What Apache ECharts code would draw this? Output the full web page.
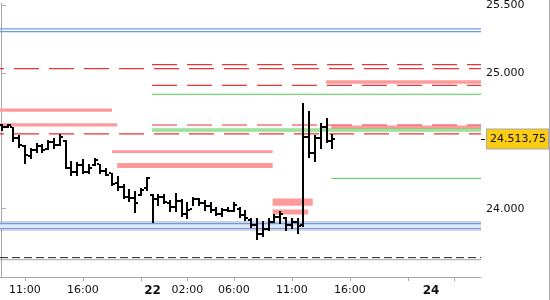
<!DOCTYPE html>
<html><head><meta charset="utf-8">
<script src="https://cdn.jsdelivr.net/npm/echarts@6/dist/echarts.min.js"></script>
<style>html,body{margin:0;padding:0;background:#fff}#c{width:550px;height:300px}</style>
</head><body><div id="c"></div>
<script>
// ---- data ----
const barSlots = [0,1,2,3,4,5,6,7,8,9,10,11,12,13,14,15,16,17,18,19,20,21,22,23,24,25,26,27,28,29,30,31,32,33,34,35,36,37,38,39,40,41,42,43,44,45,46,47,48,49,50,51,52,53,54,55,56,57];
const opens  = [24620,24605,24600,24520,24465,24390,24430,24460,24440,24490,24470,24500,24300,24270,24320,24270,24320,24330,24280,24260,24190,24160,24090,24080,24100,24150,24100,24070,24090,24040,24010,24060,23960,24000,24070,24040,24020,23990,23960,23990,23980,24000,23950,23920,23880,23810,23850,23900,23940,23930,23880,23900,23880,24530,24410,24520,24600,24500];
const closes = [24600,24615,24520,24470,24400,24430,24460,24430,24490,24470,24530,24300,24270,24320,24270,24300,24360,24280,24250,24180,24160,24090,24080,24040,24140,24230,24071,24090,24050,24010,24060,23960,23990,24070,24040,24020,23990,23960,23990,23980,24030,23950,23930,23880,23810,23850,23900,23940,23960,23880,23900,23870,24533,24411,24520,24600,24500,24513.75];
const highs  = [24628,24628,24606,24547,24474,24447,24484,24477,24509,24520,24550,24509,24350,24343,24367,24331,24374,24331,24302,24265,24241,24180,24144,24131,24155,24234,24112,24107,24107,24064,24115,24071,24053,24088,24078,24064,24046,24015,24005,24015,24046,24010,23991,23932,23932,23912,23932,23961,23980,23942,23932,23932,24781,24723,24545,24635,24666,24550];
const lows   = [24577,24599,24491,24447,24328,24370,24411,24411,24436,24443,24460,24292,24241,24241,24258,24253,24314,24253,24241,24168,24131,24071,24046,23966,24095,24131,23893,24022,24034,23973,23973,23937,23925,24022,24022,23985,23966,23949,23942,23973,23973,23932,23907,23859,23766,23790,23839,23893,23888,23839,23852,23815,23863,24374,24348,24440,24484,24440];
const lastClose = 24513.75;

const tickSlots  = [4,14,24,32,40,50,60,70,78];
const labelSlots = [4,14,26,32,40,50,60,74];
const labelTexts = ['11:00','16:00','22','02:00','06:00','11:00','16:00','24'];
const dayLabels  = ['22','24'];
const yLabelValues = [24000,25000,25500];

const xMin = -0.3, xMax = 82.6;
const sessionStart = 25.9;

// horizontal levels: [value, fromSlot, toSlot]
const blueLevels      = [[25328,xMin,xMax],[25307,xMin,xMax],[23890,xMin,xMax],[23854,xMin,xMax]];
const blueBand        = [[23854,23890,xMin,xMax]];
const grayLevels      = [[23902,xMin,xMax],[23843,xMin,xMax],[23624,xMin,xMax]];
const blackDashLevels = [[23639,xMin,xMax]];
const redDashFull     = [[25034,xMin,xMax],[24553,xMin,xMax]];
const redDashSession  = [[25063,sessionStart,xMax],[24910,sessionStart,xMax],[24618,sessionStart,xMax]];
const greenLevels     = [[24845,sessionStart,xMax],[24588,sessionStart,xMax],[24574,sessionStart,xMax],[24224,56.8,xMax]];
// zones: [low, high, fromSlot, toSlot]
const pinkZones = [
  [24715,24739,xMin,19.0],
  [24606,24630,xMin,19.9],
  [24411,24431,19.0,46.7],
  [24301,24338,19.9,46.7],
  [24022,24075,46.7,53.6],
  [23958,23995,46.7,52.8],
  [24922,24949,55.9,xMax],
  [24591,24615,56.8,xMax]
];

// ---- helpers ----
function fmtThousands(v){ return String(Math.trunc(v)).replace(/\B(?=(\d{3})+(?!\d))/g,'.'); }
function fmtPrice(v){ const ip = fmtThousands(v); const dec = Math.round((v - Math.trunc(v))*100); return ip + ',' + String(dec).padStart(2,'0'); }

function levelSeries(levels, style, z){
  return levels.map(l => ({
    type:'line', data:[[l[1],l[0]],[l[2],l[0]]], symbol:'none', silent:true, z:z,
    lineStyle: style, animation:false
  }));
}
function zoneSeries(zones, color, z){
  return {
    type:'custom', silent:true, z:z, animation:false,
    data: zones.map(zn => [zn[2], zn[3], zn[0], zn[1]]),
    encode:{x:[0,1], y:[2,3]},
    renderItem(params, api){
      const p1 = api.coord([api.value(0), api.value(3)]);
      const p2 = api.coord([api.value(1), api.value(2)]);
      return {type:'rect', shape:{x:p1[0], y:p1[1], width:p2[0]-p1[0], height:p2[1]-p1[1]}, style:{fill:color}};
    }
  };
}

const ohlc = barSlots.map((s,i) => [s, opens[i], closes[i], highs[i], lows[i]]);

const series = [];
series.push(zoneSeries(blueBand, '#dde8fb', 1));
series.push(...levelSeries(grayLevels, {color:'#a8a8a8', width:1, type:'solid'}, 2));
series.push(...levelSeries(blueLevels, {color:'#6d9ae8', width:1.2, type:'solid'}, 3));
series.push(...levelSeries(blackDashLevels, {color:'#222', width:1, type:[8,4]}, 3));
series.push(zoneSeries(pinkZones, '#ff9a9a', 4));
series.push(...levelSeries(greenLevels, {color:'#4cc84c', width:1, type:'solid'}, 5));
series.push(...levelSeries(redDashFull, {color:'#e83535', width:1.2, type:[25,10], dashOffset:21}, 5));
series.push(...levelSeries(redDashSession, {color:'#e83535', width:1.2, type:[25,10]}, 5));
series.push({
  type:'custom', z:10, animation:false,
  data: ohlc,
  encode:{x:0, y:[1,2,3,4]},
  renderItem(params, api){
    const x = api.value(0);
    const hi = api.coord([x, api.value(3)]);
    const lo = api.coord([x, api.value(4)]);
    const o = api.coord([x, api.value(1)]);
    const c = api.coord([x, api.value(2)]);
    const cx = Math.round(hi[0]);
    const oy = Math.round(o[1]), cy = Math.round(c[1]);
    const fill = '#000';
    return {type:'group', children:[
      {type:'rect', shape:{x:cx-1, y:Math.round(hi[1]), width:2, height:Math.max(2, Math.round(lo[1])-Math.round(hi[1]))}, style:{fill:fill}},
      {type:'rect', shape:{x:cx-3, y:oy-1, width:2, height:2}, style:{fill:fill}},
      {type:'rect', shape:{x:cx+1, y:cy-1, width:2, height:2}, style:{fill:fill}}
    ]};
  },
  markLine:{
    silent:true, symbol:'none', animation:false,
    lineStyle:{color:'rgba(0,0,0,0)', width:0},
    data:[{yAxis:lastClose}],
    label:{
      show:true, position:'end', distance:6,
      formatter: () => fmtPrice(lastClose),
      backgroundColor:'#fccc14', borderColor:'#a8a8a8', borderWidth:1,
      padding:[4,2,4,3], color:'#111', fontSize:11, fontFamily:'DejaVu Sans'
    }
  }
});

const chart = echarts.init(document.getElementById('c'), null, {renderer:'canvas'});
chart.setOption({
  animation:false,
  backgroundColor:'#fff',
  grid:{left:0, right:69, top:0, bottom:23, containLabel:false},
  xAxis:{
    type:'value', min:xMin, max:xMax,
    splitLine:{show:false},
    axisLine:{show:true, lineStyle:{color:'#a8a8a8'}},
    axisTick:{show:true, customValues:tickSlots, length:4, lineStyle:{color:'#a8a8a8'}},
    axisLabel:{
      customValues:labelSlots, margin:8, fontSize:11, color:'#111', fontFamily:'DejaVu Sans',
      formatter:(v)=>{ const i = labelSlots.indexOf(v); const t = labelTexts[i]; return dayLabels.includes(t) ? '{b|'+t+'}' : t; },
      rich:{b:{fontWeight:'bold', fontSize:12, color:'#111', fontFamily:'DejaVu Sans'}}
    }
  },
  yAxis:[{
    type:'value', position:'right', min:23496, max:25518,
    splitLine:{show:false},
    axisLine:{show:true, lineStyle:{color:'#a8a8a8'}},
    axisTick:{show:true, customValues:yLabelValues, length:4, lineStyle:{color:'#a8a8a8'}},
    axisLabel:{customValues:yLabelValues, margin:5, fontSize:11, color:'#111', fontFamily:'DejaVu Sans', formatter:(v)=>fmtThousands(v)}
  },{
    type:'value', position:'right', min:23496, max:25518,
    splitLine:{show:false},
    axisLine:{show:false},
    axisTick:{show:true, customValues:[lastClose], length:4, lineStyle:{color:'#000'}},
    axisLabel:{show:false}
  }],
  graphic:[{type:'line', shape:{x1:549.5,y1:0,x2:549.5,y2:300}, style:{stroke:'#a8a8a8', lineWidth:1}, silent:true}],
  series: series
});
</script>
</body></html>
